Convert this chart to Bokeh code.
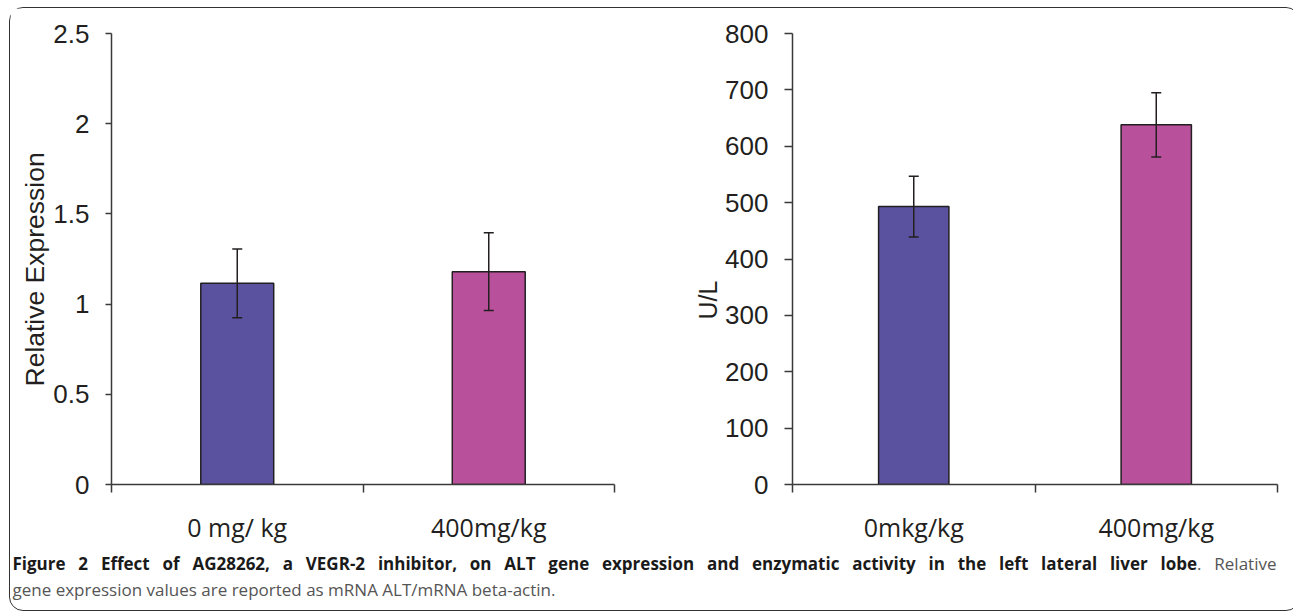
from bokeh.plotting import figure
from bokeh.models import (ColumnDataSource, Range1d, FixedTicker, Whisker, TeeHead,
                          NumeralTickFormatter, Div, Title)
from bokeh.layouts import column, row
from bokeh.embed import file_html
from bokeh.resources import INLINE

# ---------------- data ----------------
left_categories = ["0 mg/ kg", "400mg/kg"]
left_values = [1.115, 1.18]
left_errors = [0.19, 0.215]
left_ylabel = "Relative Expression"
left_yticks = [0, 0.5, 1, 1.5, 2, 2.5]

right_categories = ["0mkg/kg", "400mg/kg"]
right_values = [493, 638]
right_errors = [54, 57]
right_ylabel = "U/L"
right_yticks = [0, 100, 200, 300, 400, 500, 600, 700, 800]

bar_colors = ["#5b529f", "#b8509b"]

caption_bold = ("Figure 2 Effect of AG28262, a VEGR-2 inhibitor, on ALT gene expression "
                "and enzymatic activity in the left lateral liver lobe")
caption_rest = ". Relative"
caption_line2 = "gene expression values are reported as mRNA ALT/mRNA beta-actin."

INK = "#231f20"
AXIS = "#3a3a3a"


def make_chart(categories, values, errors, yticks, ylabel, width, height,
               border_left, border_right, border_bottom, tick_out, fmt,
               label_offset, label_size):
    n = len(categories)
    xs = [i + 0.5 for i in range(n)]
    src = ColumnDataSource(dict(
        x=xs, top=values,
        upper=[v + e for v, e in zip(values, errors)],
        lower=[v - e for v, e in zip(values, errors)],
        color=bar_colors[:n],
    ))
    p = figure(width=width, height=height, output_backend="svg", toolbar_location=None,
               x_range=Range1d(0, n), y_range=Range1d(yticks[0], yticks[-1]),
               min_border_left=border_left, min_border_right=border_right,
               min_border_top=25, min_border_bottom=border_bottom)
    p.outline_line_color = None
    p.grid.visible = False

    p.vbar(x="x", top="top", bottom=0, width=0.29, source=src,
           fill_color="color", line_color=INK, line_width=1.5)

    w = Whisker(source=src, base="x", upper="upper", lower="lower",
                line_color=INK, line_width=1.5, level="overlay",
                upper_head=TeeHead(size=10, line_color=INK, line_width=1.5),
                lower_head=TeeHead(size=10, line_color=INK, line_width=1.5))
    p.add_layout(w)

    xa = p.xaxis[0]
    xa.ticker = FixedTicker(ticks=xs, minor_ticks=list(range(n + 1)))
    xa.major_label_overrides = {x: c for x, c in zip(xs, categories)}
    xa.major_tick_out = 0
    xa.major_tick_in = 0
    xa.minor_tick_out = 8
    xa.minor_tick_in = 0
    xa.minor_tick_line_color = AXIS
    xa.minor_tick_line_width = 1.5
    xa.axis_line_color = AXIS
    xa.axis_line_width = 1.5
    xa.major_label_text_font = "Open Sans"
    xa.major_label_text_font_size = "25px"
    xa.major_label_text_color = INK
    xa.major_label_standoff = 17

    ya = p.yaxis[0]
    ya.ticker = FixedTicker(ticks=yticks)
    ya.formatter = NumeralTickFormatter(format=fmt)
    ya.major_tick_out = tick_out
    ya.major_tick_in = 0
    ya.minor_tick_out = 0
    ya.minor_tick_in = 0
    ya.major_tick_line_color = AXIS
    ya.major_tick_line_width = 1.5
    ya.axis_line_color = AXIS
    ya.axis_line_width = 1.5
    ya.major_label_text_font = "Liberation Sans"
    ya.major_label_text_font_size = "26px"
    ya.major_label_text_color = INK
    ya.major_label_standoff = 16

    t = Title(text=ylabel, align="left", offset=label_offset, standoff=2,
              text_font="Liberation Sans", text_font_size=label_size,
              text_font_style="normal", text_color=INK)
    p.add_layout(t, "left")
    return p


p1 = make_chart(left_categories, left_values, left_errors, left_yticks, left_ylabel,
                width=640, height=540, border_left=101, border_right=36,
                border_bottom=62, tick_out=6, fmt="0.[0]",
                label_offset=98, label_size="26.5px")
p2 = make_chart(right_categories, right_values, right_errors, right_yticks, right_ylabel,
                width=639, height=540, border_left=142, border_right=12,
                border_bottom=64, tick_out=8, fmt="0",
                label_offset=165, label_size="25px")

caption_html = (
    '<div style="font-family:\'Open Sans\'; font-size:17px; line-height:26px; '
    'color:#555555; padding:0; margin:-2px 0 0 -2.5px; width:1264px;">'
    '<div style="text-align:justify; text-align-last:justify;">'
    '<span style="font-weight:bold; color:#1a1a1a;">' + caption_bold + '</span>'
    + caption_rest + '</div>'
    '<div style="text-align:left;">' + caption_line2 + '</div>'
    '</div>'
)
cap = Div(text=caption_html, width=1279, height=52)

layout = column(row(p1, p2), cap,
                styles={"border": "1.5px solid #333333", "border-radius": "14px",
                        "margin-left": "9px", "margin-top": "7px"})

open("out.html", "w").write(file_html(layout, INLINE))
